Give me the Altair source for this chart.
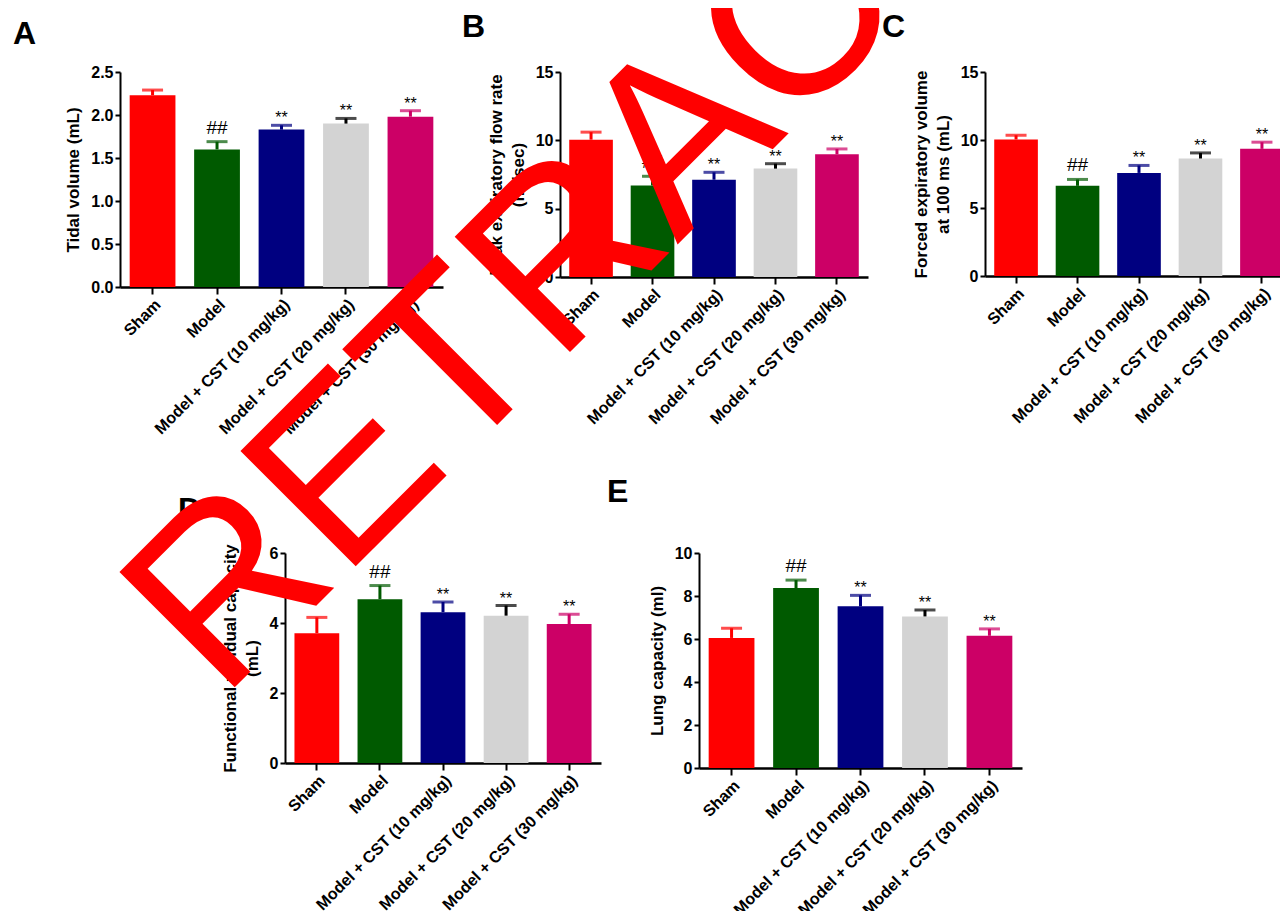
import altair as alt
import pandas as pd

FONT = "Liberation Sans"

groups = ["Sham", "Model", "Model + CST (10 mg/kg)", "Model + CST (20 mg/kg)", "Model + CST (30 mg/kg)"]
bar_colors = ["#FF0000", "#005A00", "#000080", "#D3D3D3", "#CC0066"]
err_colors = ["#FF0000", "#005A00", "#000080", "#000000", "#CC0066"]
sig_marks = ["", "##", "**", "**", "**"]
watermark = ["RETRACTED"]

tidal_mean = [2.23, 1.60, 1.83, 1.90, 1.98]
tidal_sem = [0.06, 0.09, 0.05, 0.06, 0.07]
pef_mean = [10.05, 6.70, 7.12, 7.93, 8.98]
pef_sem = [0.55, 0.67, 0.54, 0.36, 0.39]
fev_mean = [10.04, 6.63, 7.58, 8.64, 9.35]
fev_sem = [0.31, 0.47, 0.55, 0.41, 0.49]
frc_mean = [3.71, 4.68, 4.31, 4.21, 3.97]
frc_sem = [0.45, 0.39, 0.29, 0.29, 0.28]
lung_mean = [6.05, 8.37, 7.52, 7.05, 6.15]
lung_sem = [0.45, 0.37, 0.51, 0.30, 0.32]

ticks_a = [0, 0.5, 1.0, 1.5, 2.0, 2.5]
ticks_bc = [0, 5, 10, 15]
ticks_d = [0, 2, 4, 6]
ticks_e = [0, 2, 4, 6, 8, 10]


def panel(letter, mean, sem, ytitle, ymax, yvalues, yfmt, width, height, letter_dx, letter_offset, letter_dy):
    df = pd.DataFrame({
        "group": groups,
        "mean": mean,
        "upper": [m + s for m, s in zip(mean, sem)],
        "sig": sig_marks,
    })
    xenc = alt.X(
        "group:N", sort=groups, title=None,
        scale=alt.Scale(paddingInner=0.29, paddingOuter=0.15),
        axis=alt.Axis(labelAngle=-45, labelFontSize=16.2, labelFontWeight="bold", labelFont=FONT,
                      labelColor="black", labelLimit=400, labelPadding=2, tickSize=7, tickWidth=2,
                      tickColor="black", domainWidth=2.5, domainColor="black"),
    )
    yscale = alt.Scale(domain=[0, ymax], nice=False, zero=True)
    yaxis = alt.Axis(values=yvalues, format=yfmt, title=ytitle, grid=False,
                     labelFontSize=16, labelFontWeight="bold", labelFont=FONT, labelColor="black",
                     labelPadding=2, tickSize=5, tickWidth=2, tickColor="black",
                     domainWidth=2, domainColor="black",
                     titleFontSize=17, titleFont=FONT, titleFontWeight="bold", titleColor="black",
                     titlePadding=8, titleLineHeight=22)
    base = alt.Chart(df)
    bars = base.mark_bar().encode(
        x=xenc,
        y=alt.Y("mean:Q", scale=yscale, axis=yaxis),
        color=alt.Color("group:N", scale=alt.Scale(domain=groups, range=bar_colors), legend=None),
    )
    ecolor = alt.Color("group:N", scale=alt.Scale(domain=groups, range=err_colors), legend=None)
    stems = base.mark_rule(strokeWidth=3).encode(
        x=xenc, y=alt.Y("mean:Q", scale=yscale, axis=yaxis), y2="upper:Q", color=ecolor)
    caps = base.mark_tick(size=21, thickness=3).encode(
        x=xenc, y=alt.Y("upper:Q", scale=yscale, axis=yaxis), color=ecolor)
    hashes = base.transform_filter(alt.datum.sig == "##").mark_text(
        fontSize=19, font=FONT, baseline="alphabetic", dy=-8, color="black").encode(
        x=xenc, y=alt.Y("upper:Q", scale=yscale, axis=yaxis), text="sig:N")
    stars = base.transform_filter(alt.datum.sig == "**").mark_text(
        fontSize=16, font=FONT, baseline="alphabetic", dy=-2, color="black").encode(
        x=xenc, y=alt.Y("upper:Q", scale=yscale, axis=yaxis), text="sig:N")
    err = alt.layer(stems, caps)
    return alt.layer(bars, err, hashes, stars).resolve_scale(color="independent").properties(
        width=width, height=height,
        title=alt.TitleParams(text=letter, anchor="start", frame="group", dx=letter_dx, dy=letter_dy,
                              offset=letter_offset, fontSize=32, fontWeight="bold", font=FONT,
                              color="black", baseline="alphabetic"),
    )


def spacer(w):
    return alt.Chart(pd.DataFrame({"v": [0]})).mark_point(opacity=0).encode(
        x=alt.X("v:Q", axis=None), y=alt.Y("v:Q", axis=None)).properties(width=w, height=10)


pA = panel("A", tidal_mean, tidal_sem, "Tidal volume (mL)", 2.5, ticks_a, ".1f", 323, 215, -107, 16, 28)
pB = panel("B", pef_mean, pef_sem, ["Peak expiratory flow rate", "(ml/sec)"], 15, ticks_bc, "d", 308, 205, -98, 25, 30)
pC = panel("C", fev_mean, fev_sem, ["Forced expiratory volume", "at 100 ms (mL)"], 15, ticks_bc, "d", 308, 204, -103, 25, 30)
pD = panel("D", frc_mean, frc_sem, ["Functional residual capacity", "(mL)"], 6, ticks_d, "d", 316, 210, -107, 24, 32)
pE = panel("E", lung_mean, lung_sem, "Lung capacity (ml)", 10, ticks_e, "d", 323, 215, -92, 40, 29)

wm = alt.Chart(pd.DataFrame({"label": watermark})).mark_text(
    angle=315, align="left", baseline="alphabetic", fontSize=237, font=FONT, color="#FF0000"
).encode(text="label:N", x=alt.value(-899), y=alt.value(148)).properties(width=10, height=10)

row1 = alt.hconcat(pA, pB, pC, spacing=117, bounds="flush")
row2 = alt.hconcat(spacer(67), pD, pE, wm, spacing=98, bounds="flush")

chart = alt.vconcat(row1, row2, spacing=481, bounds="flush").properties(
    autosize=alt.AutoSizeParams(type="none"),
    padding={"left": 112, "top": 64, "right": 1160, "bottom": 839},
    background="white",
).configure_view(stroke=None)

chart.save("out.html", embed_options={"renderer": "svg", "actions": False})
